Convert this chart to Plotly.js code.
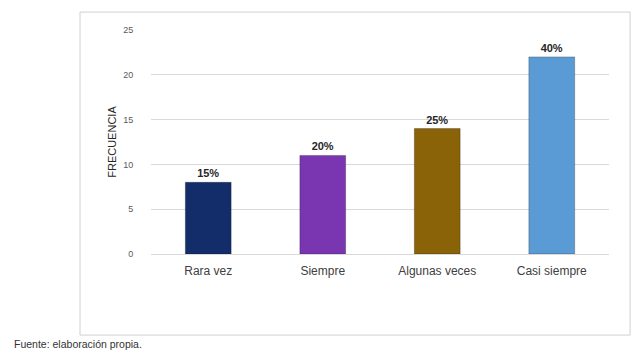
<!DOCTYPE html>
<html>
<head>
<meta charset="utf-8">
<script src="https://cdn.plot.ly/plotly-3.0.1.min.js"></script>
<style>
html,body{margin:0;padding:0;background:#fff;}
#chart{width:631px;height:352px;}
</style>
</head>
<body>
<div id="chart"></div>
<script>
const categories = ["Rara vez", "Siempre", "Algunas veces", "Casi siempre"];
const frecuencia = [8, 11, 14, 22];
const porcentajes = ["15%", "20%", "25%", "40%"];
const barColors = ["#132d6b", "#7a36b1", "#8a6208", "#5b9bd5"];
const yTicks = [0, 5, 10, 15, 20, 25];

const trace = {
  type: "bar",
  x: categories,
  y: frecuencia,
  text: porcentajes,
  textposition: "outside",
  cliponaxis: false,
  textfont: {family: "Arial, Liberation Sans, sans-serif", size: 11, color: "#262626", weight: "bold"},
  marker: {color: barColors, line: {color: "rgba(0,0,0,0.25)", width: 1}},
  hoverinfo: "none"
};

const layout = {
  width: 631, height: 352,
  margin: {l: 151, r: 22, t: 30, b: 98},
  paper_bgcolor: "#ffffff",
  plot_bgcolor: "#ffffff",
  bargap: 0.6,
  showlegend: false,
  font: {family: "Arial, Liberation Sans, sans-serif"},
  xaxis: {
    type: "category",
    tickfont: {size: 12, color: "#404040"},
    showgrid: false,
    showline: false,
    ticks: "outside", ticklen: 6, tickcolor: "rgba(0,0,0,0)"
  },
  yaxis: {
    range: [0, 25],
    tickvals: yTicks,
    tickfont: {size: 9, color: "#595959"},
    showgrid: true, gridcolor: "#d9d9d9", gridwidth: 1,
    zeroline: true, zerolinecolor: "#d9d9d9", zerolinewidth: 1,
    showline: false,
    ticks: "outside", ticklen: 15, tickcolor: "rgba(0,0,0,0)",
    title: {text: "FRECUENCIA", font: {size: 11, color: "#262626"}, standoff: 4}
  },
  shapes: [{
    type: "rect", xref: "paper", yref: "paper",
    x0: -0.155, x1: 1.046, y0: -0.362, y1: 1.080,
    line: {color: "#d0d0d0", width: 1}, fillcolor: "rgba(0,0,0,0)", layer: "below"
  }],
  annotations: [{
    text: "Fuente: elaboración propia.",
    xref: "paper", yref: "paper",
    x: -0.303, y: -0.40, xanchor: "left", yanchor: "middle",
    showarrow: false,
    font: {size: 10.5, color: "#333333"}
  }]
};

Plotly.newPlot("chart", [trace], layout, {staticPlot: true, displayModeBar: false});
</script>
</body>
</html>
